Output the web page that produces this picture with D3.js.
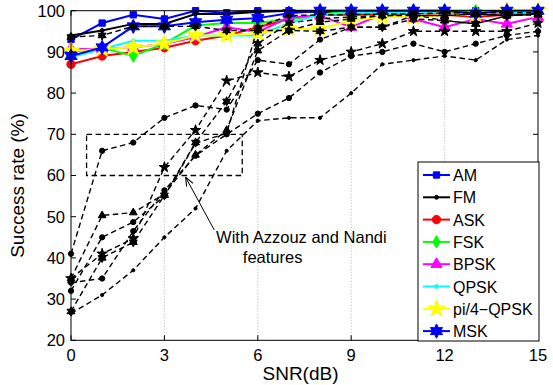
<!DOCTYPE html>
<html>
<head>
<meta charset="utf-8">
<script src="https://d3js.org/d3.v7.min.js"></script>
<style>
  body { margin: 0; background: #fff; }
  text { font-family: "Liberation Sans", Arial, sans-serif; }
</style>
</head>
<body>
<svg id="chart" width="553" height="385"></svg>
<script>
// SNR axis values (dB)
var snr = [0, 1, 2, 3, 4, 5, 6, 7, 8, 9, 10, 11, 12, 13, 14, 15];
var xTicks = [0, 3, 6, 9, 12, 15];
var yTicks = [20, 30, 40, 50, 60, 70, 80, 90, 100];

// proposed features, one array per modulation (success rate %)
var names = ["AM", "FM", "ASK", "FSK", "BPSK", "QPSK", "pi/4\u2212QPSK", "MSK"];
var amVals   = [93, 97, 99, 98, 100, 99.5, 100, 100, 100, 100, 100, 100, 100, 100, 100, 100];
var fmVals   = [94, 95.2, 96.8, 96.8, 99.2, 99.2, 99.7, 100, 99.6, 99.6, 99.5, 99.5, 99.3, 99.3, 99.3, 99.5];
var askVals  = [87, 89, 90, 91, 92.7, 94, 96, 98, 99, 99, 99.2, 99.5, 99, 98.5, 99, 99.5];
var fskVals  = [90, 91, 89, 92, 96.4, 97, 97, 98, 99, 100, 100, 100, 100, 100, 99.5, 100];
var bpskVals = [90.7, 90.7, 91.1, 91.9, 93.6, 96, 94.8, 98.4, 98.8, 96, 99.2, 98, 96, 98, 96.8, 98.5];
var qpskVals = [88.7, 90.7, 92.7, 92.7, 94, 94, 94, 97, 99, 99.5, 99.5, 99.5, 99.5, 99.5, 99.5, 99.5];
var pi4Vals  = [90.3, 90.7, 91.1, 92, 94, 94, 94.5, 95.6, 95.6, 97.6, 98.5, 98.5, 99, 99, 100, 100];
var mskVals  = [89, 91.1, 96.2, 96.2, 97.2, 97.8, 98.2, 99.4, 100, 100, 100, 100, 100, 99.3, 100, 100];

// Azzouz and Nandi features (black dashed)
var azVals1 = [41, 66, 68, 74, 77, 76, 88, 87, 93, 96, 96, 98.8, 98.8, 99.2, 98.8, 99.2];
var azVals2 = [35, 50.3, 51, 55.5, 65, 71, 90.3, 95.2, 97.2, 98, 98.8, 98.8, 98.8, 99.2, 98.8, 99.2];
var azVals3 = [32, 45, 48.7, 55, 67.8, 70.3, 96, 98.8, 99, 99, 99.2, 99.2, 99.5, 99.5, 99.5, 99.5];
var azVals4 = [35, 41, 44.7, 62, 71, 83, 85, 84, 88, 90, 92, 95, 95, 95, 95, 97];
var azVals5 = [34, 35, 46.5, 56.4, 64.8, 70, 75, 78.8, 85, 89, 90, 92, 90, 92, 94, 95];
var azVals6 = [27, 40, 43.8, 55.2, 68, 78, 92, 97, 98, 98.5, 98.8, 99, 97.6, 96.8, 98.8, 99.2];
var azVals7 = [26.5, 31, 37, 45, 52, 66, 73.3, 74, 74, 80, 87, 88, 89, 88, 93, 94];
var azVals8 = [93.6, 94, 96.2, 96.2, 96.2, 95.2, 95.2, 95.2, 95, 96, 96, 98, 97.6, 96.8, 98.8, 99];

var svg = d3.select("#chart");
var margin = {left: 71, top: 10.7, right: 15, bottom: 44.7};
var W = 553 - margin.left - margin.right;
var H = 385 - margin.top - margin.bottom;

var x = d3.scaleLinear().domain([0, 15]).range([0, W]);
var y = d3.scaleLinear().domain([20, 100]).range([H, 0]);

var g = svg.append("g").attr("transform", "translate(" + margin.left + "," + margin.top + ")");

// vertical dotted grid
g.selectAll("line.grid")
  .data(xTicks.slice(1, -1))
  .enter().append("line")
  .attr("class", "grid")
  .attr("x1", function(d) { return x(d); }).attr("x2", function(d) { return x(d); })
  .attr("y1", 0).attr("y2", H)
  .style("stroke", "#b0b0b0").style("stroke-width", 1).style("stroke-dasharray", "1,2");

// hexagram (6 point star) for MSK
var hexagram = {
  draw: function(ctx, size) {
    var r = Math.sqrt(size / 1.6), ri = r * 0.55;
    for (var i = 0; i < 12; i++) {
      var a = i * Math.PI / 6 - Math.PI / 2, rr = i % 2 ? ri : r;
      if (i === 0) ctx.moveTo(rr * Math.cos(a), rr * Math.sin(a));
      else ctx.lineTo(rr * Math.cos(a), rr * Math.sin(a));
    }
    ctx.closePath();
  }
};

var symbols = {
  square: d3.symbolSquare, dot: d3.symbolCircle, circle: d3.symbolCircle,
  diamond: d3.symbolDiamond, triangle: d3.symbolTriangle, star: d3.symbolStar,
  hex: hexagram
};
var symSize = {square: 40, dot: 12, circle: 55, diamond: 45, triangle: 55, star: 90, hex: 80};
// smaller black markers on the dashed curves
var azSize = {dot: 8, circle: 22, triangle: 26, star: 34, hex: 34};

var proposed = [
  {name: names[0], vals: amVals,   color: "#0000ff", marker: "square"},
  {name: names[1], vals: fmVals,   color: "#000000", marker: "dot"},
  {name: names[2], vals: askVals,  color: "#ff0000", marker: "circle"},
  {name: names[3], vals: fskVals,  color: "#00ff00", marker: "diamond"},
  {name: names[4], vals: bpskVals, color: "#ff00ff", marker: "triangle"},
  {name: names[5], vals: qpskVals, color: "#00ffff", marker: "dot"},
  {name: names[6], vals: pi4Vals,  color: "#ffff00", marker: "star"},
  {name: names[7], vals: mskVals,  color: "#0000ff", marker: "hex"}
];

var azzouz = [
  {vals: azVals1, marker: "circle"}, {vals: azVals2, marker: "triangle"},
  {vals: azVals3, marker: "circle"}, {vals: azVals4, marker: "star"},
  {vals: azVals5, marker: "circle"}, {vals: azVals6, marker: "hex"},
  {vals: azVals7, marker: "dot"},    {vals: azVals8, marker: "hex"}
];

var line = d3.line()
  .x(function(d, i) { return x(snr[i]); })
  .y(function(d) { return y(d); });

function drawSeries(s, color, width, dash, msize) {
  g.append("path")
    .attr("d", line(s.vals))
    .style("fill", "none").style("stroke", color)
    .style("stroke-width", width)
    .style("stroke-dasharray", dash);
  g.selectAll(null)
    .data(s.vals)
    .enter().append("path")
    .attr("transform", function(d, i) { return "translate(" + x(snr[i]) + "," + y(d) + ")"; })
    .attr("d", d3.symbol().type(symbols[s.marker]).size(msize))
    .style("fill", color).style("stroke", color).style("stroke-width", 1);
}

proposed.forEach(function(s) { drawSeries(s, s.color, 2, null, symSize[s.marker]); });
azzouz.forEach(function(s) { drawSeries(s, "#000", 1.4, "5.5,3.5", azSize[s.marker]); });

// dashed box and annotation
g.append("rect")
  .attr("x", x(0.5)).attr("y", y(70))
  .attr("width", x(5.5) - x(0.5)).attr("height", y(60) - y(70))
  .style("fill", "none").style("stroke", "#000").style("stroke-width", 1.3)
  .style("stroke-dasharray", "5.5,3.5");

svg.append("defs").append("marker")
  .attr("id", "head").attr("viewBox", "0 0 10 10")
  .attr("refX", 10).attr("refY", 5)
  .attr("markerWidth", 9).attr("markerHeight", 9)
  .attr("orient", "auto")
  .append("path").attr("d", "M0,1 L10,5 L0,9").style("fill", "none").style("stroke", "#000").style("stroke-width", 1.2);

g.append("line")
  .attr("x1", x(4.6)).attr("y1", y(46.8))
  .attr("x2", x(3.68)).attr("y2", y(59.6))
  .style("stroke", "#000").style("stroke-width", 1)
  .attr("marker-end", "url(#head)");

g.append("text").attr("x", x(4.66)).attr("y", y(43.7))
  .style("font-size", "16.5px").text("With Azzouz and Nandi");
g.append("text").attr("x", x(5.52)).attr("y", y(38.8))
  .style("font-size", "16.5px").text("features");

// axes box with inward ticks
g.append("rect").attr("width", W).attr("height", H)
  .style("fill", "none").style("stroke", "#000").style("stroke-width", 1);

var tickLen = 5;
g.selectAll(null).data(xTicks).enter().append("path")
  .attr("d", function(d) {
    return "M" + x(d) + "," + H + "v" + (-tickLen) + "M" + x(d) + ",0v" + tickLen;
  }).style("stroke", "#000");
g.selectAll(null).data(yTicks).enter().append("path")
  .attr("d", function(d) {
    return "M0," + y(d) + "h" + tickLen + "M" + W + "," + y(d) + "h" + (-tickLen);
  }).style("stroke", "#000");

g.selectAll(null).data(xTicks).enter().append("text")
  .attr("x", function(d) { return x(d); }).attr("y", H + 21)
  .attr("text-anchor", "middle").style("font-size", "16.5px")
  .text(function(d) { return d; });
g.selectAll(null).data(yTicks).enter().append("text")
  .attr("x", -6).attr("y", function(d) { return y(d) + 6; })
  .attr("text-anchor", "end").style("font-size", "16.5px")
  .text(function(d) { return d; });

svg.append("text").attr("x", margin.left + W / 2 - 4).attr("y", 380)
  .attr("text-anchor", "middle").style("font-size", "19px").text("SNR(dB)");
svg.append("text")
  .attr("transform", "translate(24," + (margin.top + H / 2 + 10) + ") rotate(-90)")
  .attr("text-anchor", "middle").style("font-size", "19px").text("Success rate (%)");

// legend
var lg = svg.append("g").attr("transform", "translate(418,162)");
lg.append("rect").attr("width", 121).attr("height", 179)
  .style("fill", "#fff").style("stroke", "#000").style("stroke-width", 1);
var item = lg.selectAll("g.item").data(proposed).enter().append("g")
  .attr("class", "item")
  .attr("transform", function(d, i) { return "translate(0," + (13 + i * 22.3) + ")"; });
item.append("line").attr("x1", 5).attr("x2", 32)
  .style("stroke", function(d) { return d.color; }).style("stroke-width", 2);
item.append("path").attr("transform", "translate(18.5,0)")
  .attr("d", function(d) { return d3.symbol().type(symbols[d.marker]).size(symSize[d.marker])(); })
  .style("fill", function(d) { return d.color; }).style("stroke", function(d) { return d.color; });
item.append("text").attr("x", 35).attr("y", 6)
  .style("font-size", "16px").text(function(d) { return d.name; });
</script>
</body>
</html>
